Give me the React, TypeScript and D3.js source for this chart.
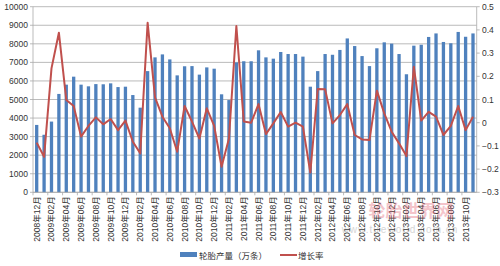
import React from "react";
import * as d3 from "d3";

const months: string[] = (() => {
  const out: string[] = [];
  let y = 2008, m = 12;
  for (let i = 0; i < 60; i++) {
    out.push(`${y}年${String(m).padStart(2, "0")}月`);
    m++;
    if (m > 12) { m = 1; y++; }
  }
  return out;
})();

const production: number[] = [
  3630, 3100, 3810, 5300, 5800, 6230, 5800, 5710, 5830, 5820, 5870, 5670, 5690, 5240, 4560,
  6530, 7270, 7430, 7160, 6300, 6790, 6800, 6340, 6730, 6660, 5280, 4970, 7000, 7060, 7060,
  7650, 7270, 7200, 7560, 7450, 7450, 7310, 5690, 6530, 7450, 7410, 7670, 8290, 7880, 7340,
  6800, 7760, 8080, 8010, 7450, 6360, 7900, 7950, 8370, 8560, 8100, 8030, 8640, 8380, 8560,
];

const growth: number[] = [
  -0.086, -0.147, 0.234, 0.388, 0.098, 0.072, -0.06, -0.014, 0.023, -0.007, 0.016, -0.032, 0.009, -0.082, -0.132,
  0.431, 0.109, 0.026, -0.024, -0.125, 0.072, 0.005, -0.068, 0.062, -0.014, -0.19, -0.068, 0.417, 0.005, 0.0,
  0.08, -0.049, -0.003, 0.046, -0.017, 0.0, -0.017, -0.215, 0.145, 0.144, -0.003, 0.033, 0.08, -0.053, -0.072,
  -0.075, 0.138, 0.04, -0.039, -0.089, -0.144, 0.241, 0.009, 0.047, 0.026, -0.053, -0.014, 0.072, -0.032, 0.026,
];

const leftTicks = [0, 1000, 2000, 3000, 4000, 5000, 6000, 7000, 8000, 9000, 10000];
const rightTicks = [-0.3, -0.2, -0.1, 0, 0.1, 0.2, 0.3, 0.4, 0.5];
const barLabel = "轮胎产量（万条）";
const lineLabel = "增长率";

const FONT = "'Liberation Sans', 'Noto Sans CJK SC', sans-serif";

export default function App() {
  const W = 500, H = 266;
  const left = 33, right = 476.7, top = 6.7, bottom = 192.3;
  const x = d3.scaleBand<string>().domain(months).range([left, right]).paddingInner(0.56).paddingOuter(0.28);
  const yL = d3.scaleLinear().domain([0, 10000]).range([bottom, top]);
  const yR = d3.scaleLinear().domain([-0.3, 0.5]).range([bottom, top]);
  const step = (right - left) / months.length;
  const cx = (i: number) => left + step * (i + 0.5);
  const line = d3.line<number>().x((_, i) => cx(i)).y((d) => yR(d));
  const blue = "#4F81BD";
  const red = "#C0504D";
  const grid = "#a9a9a9";

  return (
    <svg width={W} height={H} style={{ position: "absolute", left: 0, top: 0, background: "#fff" }} fontFamily={FONT}>
      <rect x={0} y={0} width={W} height={H} fill="#fff" />
      {leftTicks.map((t) => (
        <line key={"g" + t} x1={left} x2={right} y1={yL(t)} y2={yL(t)} stroke={grid} strokeWidth={0.8} />
      ))}
      {production.map((v, i) => {
        const w = 3.3;
        return <rect key={"b" + i} x={cx(i) - w / 2} y={yL(v)} width={w} height={yL(0) - yL(v)} fill={blue} />;
      })}
      <path d={line(growth) || ""} fill="none" stroke={red} strokeWidth={2} strokeLinejoin="round" />
      {/* axes */}
      <line x1={left} x2={left} y1={top} y2={bottom} stroke={grid} strokeWidth={0.8} />
      <line x1={right} x2={right} y1={top} y2={bottom} stroke={grid} strokeWidth={0.8} />
      <line x1={left} x2={right} y1={bottom} y2={bottom} stroke={grid} strokeWidth={0.8} />
      {leftTicks.map((t) => (
        <g key={"l" + t}>
          <line x1={left - 3} x2={left} y1={yL(t)} y2={yL(t)} stroke={grid} strokeWidth={0.8} />
          <text x={28} y={yL(t) + 3} fontSize={8.5} textAnchor="end" fill="#333">{t}</text>
        </g>
      ))}
      {rightTicks.map((t) => (
        <g key={"r" + t}>
          <line x1={right} x2={right + 3} y1={yR(t)} y2={yR(t)} stroke={grid} strokeWidth={0.8} />
          <text x={482} y={yR(t) + 3} fontSize={8.5} textAnchor="start" fill="#333">{d3.format("")(Math.round(t * 10) / 10)}</text>
        </g>
      ))}
      {months.map((m, i) =>
        i % 2 === 0 ? (
          <g key={"x" + i}>
            <line x1={left + step * i} x2={left + step * i} y1={bottom} y2={bottom + 3} stroke={grid} strokeWidth={0.8} />
            <text transform={`translate(${cx(i) + 3},${bottom + 4}) rotate(-90)`} fontSize={8.5} textAnchor="end" fill="#333">{m}</text>
          </g>
        ) : null
      )}
      {/* legend */}
      <rect x={180} y={252} width={17} height={5} fill={blue} />
      <text x={199} y={258.5} fontSize={8.5} fill="#333">{barLabel}</text>
      <line x1={280} x2={297} y1={255} y2={255} stroke={red} strokeWidth={2} />
      <text x={298} y={258.5} fontSize={8.5} fill="#333">{lineLabel}</text>
      {/* watermark */}
      <g opacity={0.35}>
        <text x={411} y={217} fontSize={17} fill="#e05a6a" fontWeight="bold" textAnchor="middle">轮胎世界网</text>
        <text x={400} y={233} fontSize={10} fill="#888" textAnchor="middle" letterSpacing={1}>www.tireworld.com.cn</text>
      </g>
    </svg>
  );
}
